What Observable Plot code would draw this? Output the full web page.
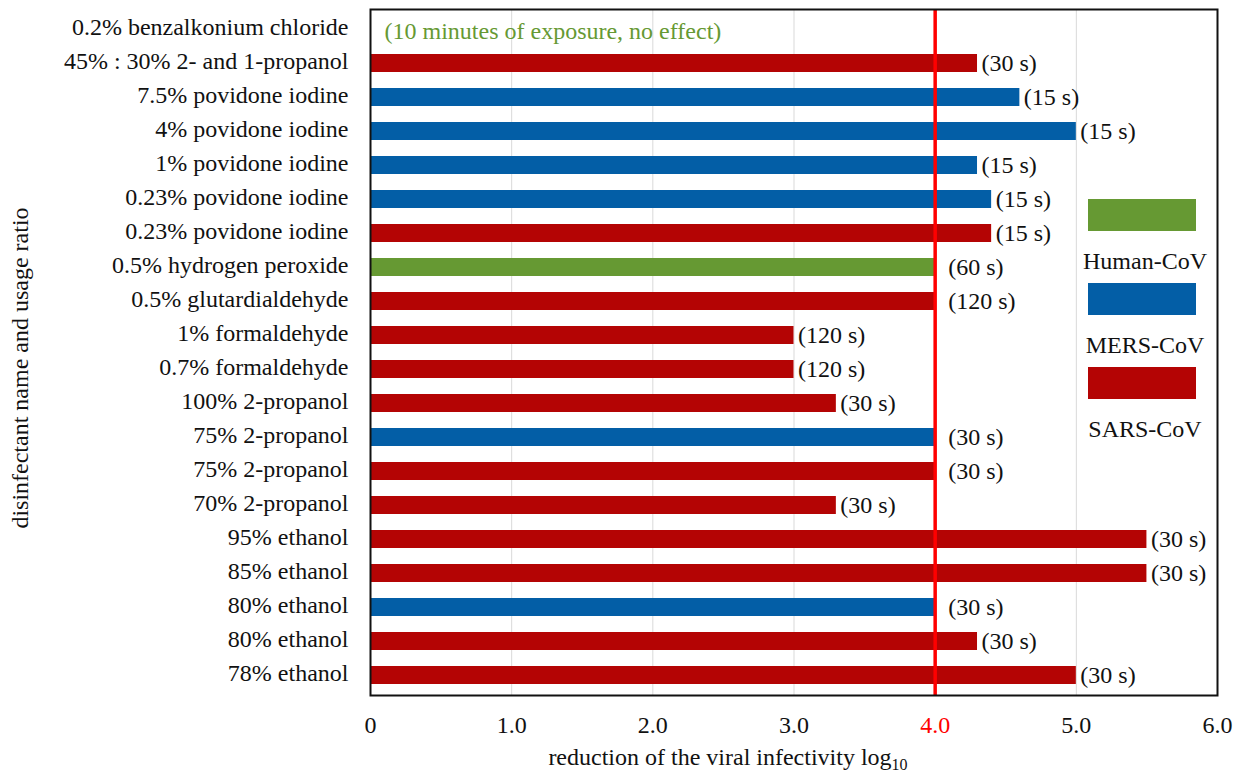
<!DOCTYPE html>
<html>
<head>
<meta charset="utf-8">
<script src="https://cdn.jsdelivr.net/npm/d3@7"></script>
<script src="https://cdn.jsdelivr.net/npm/@observablehq/plot@0.6"></script>
<style>
  body { margin: 0; background: white; }
  #wrap { position: relative; width: 1243px; height: 776px; }
</style>
</head>
<body>
<div id="wrap"></div>
<script>
const names = [
  "0.2% benzalkonium chloride",
  "45% : 30% 2- and 1-propanol",
  "7.5% povidone iodine",
  "4% povidone iodine",
  "1% povidone iodine",
  "0.23% povidone iodine",
  "0.23% povidone iodine",
  "0.5% hydrogen peroxide",
  "0.5% glutardialdehyde",
  "1% formaldehyde",
  "0.7% formaldehyde",
  "100% 2-propanol",
  "75% 2-propanol",
  "75% 2-propanol",
  "70% 2-propanol",
  "95% ethanol",
  "85% ethanol",
  "80% ethanol",
  "80% ethanol",
  "78% ethanol"
];
const viruses = [
  "Human-CoV", "SARS-CoV", "MERS-CoV", "MERS-CoV", "MERS-CoV", "MERS-CoV", "SARS-CoV",
  "Human-CoV", "SARS-CoV", "SARS-CoV", "SARS-CoV", "SARS-CoV", "MERS-CoV", "SARS-CoV",
  "SARS-CoV", "SARS-CoV", "SARS-CoV", "MERS-CoV", "SARS-CoV", "SARS-CoV"
];
const reductions = [null, 4.3, 4.6, 5.0, 4.3, 4.4, 4.4, 4.0, 4.0, 3.0, 3.0, 3.3, 4.0, 4.0, 3.3, 5.5, 5.5, 4.0, 4.3, 5.0];
const times = [
  "10 minutes of exposure, no effect", "30 s", "15 s", "15 s", "15 s", "15 s", "15 s",
  "60 s", "120 s", "120 s", "120 s", "30 s", "30 s", "30 s", "30 s", "30 s", "30 s",
  "30 s", "30 s", "30 s"
];
const xTicks = [0, 1, 2, 3, 4, 5, 6];
const threshold = 4;
const virusDomain = ["Human-CoV", "MERS-CoV", "SARS-CoV"];
const virusColors = ["#669933", "#035ea6", "#b40404"];

const rows = names.map((name, i) => ({i, name, virus: viruses[i], value: reductions[i], time: times[i]}));
const withBar = rows.filter(d => d.value != null);
const noBar = rows.filter(d => d.value == null);
const FS = 24;
const FONT = "Liberation Serif, Times New Roman, serif";

const chart = Plot.plot({
  width: 1243,
  height: 776,
  marginLeft: 370,
  marginRight: 26,
  marginTop: 9,
  marginBottom: 81,
  style: {fontFamily: FONT, fontSize: FS + "px", background: "white", color: "#111"},
  x: {domain: [0, 6]},
  y: {domain: d3.range(names.length), paddingInner: 0.466, paddingOuter: 0.233},
  color: {domain: virusDomain, range: virusColors},
  marks: [
    Plot.gridX(xTicks.filter(t => t > 0 && t < 6), {stroke: "#d9d9d9", strokeOpacity: 1, strokeWidth: 1}),
    Plot.barX(withBar, {x: "value", y: "i", fill: "virus"}),
    Plot.ruleX([threshold], {stroke: "#ff0000", strokeWidth: 3.5}),
    Plot.text(withBar.filter(d => d.value !== threshold), {x: "value", y: "i", text: d => `(${d.time})`, textAnchor: "start", dx: 4, dy: 0, fontSize: FS, fill: "#111"}),
    Plot.text(withBar.filter(d => d.value === threshold), {x: "value", y: "i", text: d => `(${d.time})`, textAnchor: "start", dx: 13, dy: 0, fontSize: FS, fill: "#111"}),
    Plot.text(noBar, {x: 0, y: "i", text: d => `(${d.time})`, textAnchor: "start", dx: 14, dy: 2, fontSize: FS, fill: "#669933"}),
    Plot.frame({stroke: "#111", strokeWidth: 2}),
    Plot.axisY({ticks: d3.range(names.length), tickFormat: i => names[i], tickSize: 0, tickPadding: 22, dy: -2, label: null, fontSize: FS, fill: "#111"}),
    Plot.axisX({ticks: xTicks, tickFormat: d => d === 0 ? "0" : d.toFixed(1), tickSize: 0, tickPadding: 20, label: null, fontSize: FS, fill: "#111"})
  ]
});

const wrap = document.getElementById("wrap");
wrap.appendChild(chart);

const svg = d3.select(chart);
svg.selectAll('[aria-label="x-axis tick label"] text')
  .filter(function() { return this.textContent === "4.0"; })
  .attr("fill", "#ff0000");

svg.append("text")
  .attr("transform", "translate(28,368) rotate(-90)")
  .attr("text-anchor", "middle")
  .attr("font-family", FONT)
  .attr("font-size", FS)
  .attr("fill", "#111")
  .text("disinfectant name and usage ratio");

const xl = svg.append("text")
  .attr("x", 728)
  .attr("y", 765)
  .attr("text-anchor", "middle")
  .attr("font-family", FONT)
  .attr("font-size", FS)
  .attr("fill", "#111");
xl.append("tspan").text("reduction of the viral infectivity log");
xl.append("tspan").attr("font-size", 16).attr("dy", 5).text("10");

// legend
const legendTops = [199, 283, 367];
const lg = svg.append("g").attr("font-family", FONT).attr("font-size", FS).attr("fill", "#111");
virusDomain.forEach((v, k) => {
  lg.append("rect")
    .attr("x", 1088).attr("y", legendTops[k])
    .attr("width", 108).attr("height", 32)
    .attr("fill", virusColors[k]);
  lg.append("text")
    .attr("x", 1145).attr("y", legendTops[k] + 70)
    .attr("text-anchor", "middle")
    .text(v);
});
</script>
</body>
</html>
